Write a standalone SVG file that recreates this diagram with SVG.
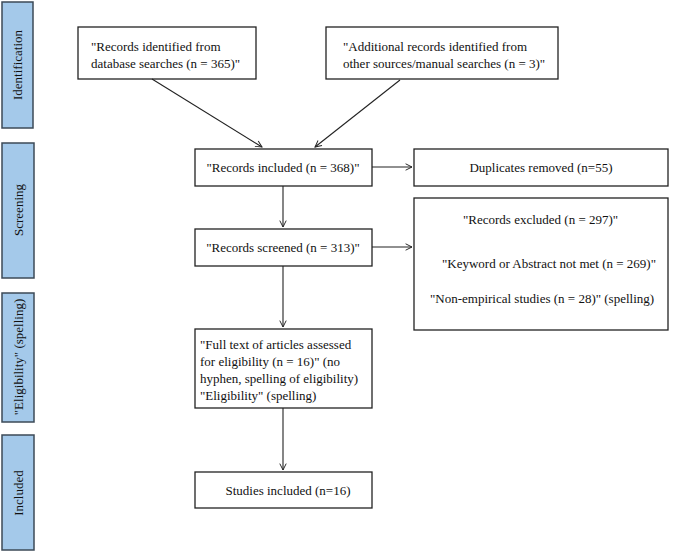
<svg xmlns="http://www.w3.org/2000/svg" width="685" height="551" viewBox="0 0 685 551">
<style>
.side{fill:#a4c9ea;stroke:#3c4a57;stroke-width:1.5}
.box{fill:#fff;stroke:#222;stroke-width:1.3}
text{font-family:"Liberation Serif",serif;font-size:13px;fill:#111}
.c line{stroke:#222;stroke-width:1.1;marker-end:url(#a)}
</style>
<defs><marker id="a" viewBox="0 0 10 10" refX="9" refY="5" markerWidth="8" markerHeight="8" orient="auto" markerUnits="userSpaceOnUse"><path d="M1,1L9,5L1,9" fill="none" stroke="#222" stroke-width="1.2"/></marker></defs>
<rect width="685" height="551" fill="#fff"/>
<g id="s1"><rect class="side" x="2" y="2" width="31" height="126"/><text transform="translate(22,65) rotate(-90)" text-anchor="middle">Identification</text></g>
<g id="s2"><rect class="side" x="2" y="143" width="32" height="135"/><text transform="translate(23,210) rotate(-90)" text-anchor="middle">Screening</text></g>
<g id="s3"><rect class="side" x="2" y="293" width="32" height="129"/><text transform="translate(23,357) rotate(-90)" text-anchor="middle">"Eligibility" (spelling)</text></g>
<g id="s4"><rect class="side" x="2" y="435" width="32" height="115"/><text transform="translate(23,493) rotate(-90)" text-anchor="middle">Included</text></g>
<g id="n1"><rect class="box" x="78" y="27" width="178" height="52"/><text x="91" y="51">"Records identified from</text><text x="91" y="68">database searches (n = 365)"</text></g>
<g id="n2"><rect class="box" x="326" y="27" width="232" height="52"/><text x="343" y="51">"Additional records identified from</text><text x="343" y="68">other sources/manual searches (n = 3)"</text></g>
<g id="n3"><rect class="box" x="195" y="149" width="177" height="37"/><text x="283" y="172" text-anchor="middle">"Records included (n = 368)"</text></g>
<g id="n4"><rect class="box" x="414" y="149" width="254" height="37"/><text x="541" y="172" text-anchor="middle">Duplicates removed (n=55)</text></g>
<g id="n5"><rect class="box" x="195" y="229" width="177" height="37"/><text x="283" y="252" text-anchor="middle">"Records screened (n = 313)"</text></g>
<g id="n6"><rect class="box" x="414" y="198" width="254" height="132"/><text x="463" y="224">"Records excluded (n = 297)"</text><text x="442" y="268">"Keyword or Abstract not met (n = 269)"</text><text x="430" y="303">"Non-empirical studies (n = 28)" (spelling)</text></g>
<g id="n7"><rect class="box" x="195" y="329" width="177" height="79"/><text x="200" y="349">"Full text of articles assessed</text><text x="200" y="366">for eligibility (n = 16)" (no</text><text x="200" y="383">hyphen, spelling of eligibility)</text><text x="200" y="400">"Eligibility" (spelling)</text></g>
<g id="n8"><rect class="box" x="195" y="472" width="177" height="36"/><text x="288" y="495" text-anchor="middle">Studies included (n=16)</text></g>
<g class="c" id="connectors">
<line x1="152" y1="79" x2="262" y2="147"/>
<line x1="400" y1="80" x2="315" y2="147"/>
<line x1="283" y1="186" x2="283" y2="227"/>
<line x1="372" y1="167" x2="412" y2="167"/>
<line x1="372" y1="247" x2="412" y2="247"/>
<line x1="283" y1="266" x2="283" y2="327"/>
<line x1="283" y1="408" x2="283" y2="470"/>
</g>
</svg>
